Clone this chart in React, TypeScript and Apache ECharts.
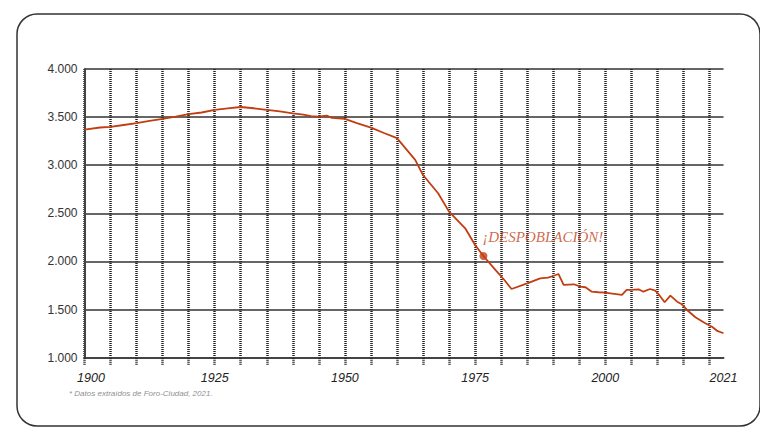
import React, { useEffect, useRef } from "react";
import * as echarts from "echarts";

const years = [
  1900, 1903, 1905, 1907.5, 1910, 1912.5, 1915, 1917.5, 1920, 1922.5, 1925, 1927.5, 1930, 1931, 1932.5,
  1935, 1937.5, 1940, 1942, 1943.5, 1945, 1946.5, 1947.5, 1950, 1952.3, 1955, 1957.5, 1960, 1963.5,
  1965, 1967.9, 1970, 1973.1, 1975, 1976.6, 1978.9, 1980.5, 1982, 1985, 1987.5, 1989, 1990, 1991,
  1992, 1994, 1995.2, 1996.2, 1997.4, 1998.7, 2000, 2001, 2003.2, 2004.1, 2005, 2006.4, 2007.3,
  2008.6, 2009.6, 2010.2, 2011.4, 2012.5, 2013.8, 2014.7, 2015.7, 2017.3, 2019.2, 2020.5, 2021.5,
  2022.7,
];
const population = [
  3370, 3392, 3398, 3418, 3437, 3460, 3481, 3505, 3530, 3548, 3575, 3590, 3605, 3600, 3592,
  3575, 3560, 3540, 3525, 3510, 3505, 3516, 3492, 3481, 3437, 3391, 3335, 3281, 3055,
  2898, 2709, 2518, 2345, 2171, 2057, 1912, 1815, 1714, 1773, 1825, 1832, 1849, 1870,
  1756, 1763, 1738, 1732, 1686, 1680, 1676, 1669, 1652, 1704, 1704, 1711, 1686,
  1714, 1697, 1662, 1576, 1645, 1582, 1555, 1496, 1420, 1358, 1322, 1278,
  1254,
];
const highlight = { year: 1976.6, value: 2057, label: "¡DESPOBLACIÓN!" };
const xLabelValues = [1900, 1925, 1950, 1975, 2000, 2022.7];
const xLabelTexts = ["1900", "1925", "1950", "1975", "2000", "2021"];
const xGridValues = [
  1900, 1905, 1910, 1915, 1920, 1925, 1930, 1935, 1940, 1945, 1950, 1955, 1960, 1965, 1970,
  1975, 1980, 1985, 1990, 1995, 2000, 2005, 2010, 2015, 2020,
];
const footnote = "* Datos extraídos de Foro-Ciudad, 2021.";

const RED = "#c23d12";

export default function App() {
  const ref = useRef<HTMLDivElement>(null);
  useEffect(() => {
    document.body.style.margin = "0";
    const chart = echarts.init(ref.current!, null, { renderer: "svg" });
    chart.setOption({
      animation: false,
      backgroundColor: "#ffffff",
      grid: { left: 84.5, top: 69, right: 36.5, bottom: 69.3 },
      xAxis: {
        type: "value",
        min: 1900,
        max: 2022.7,
        axisLine: { show: true, onZero: false, lineStyle: { color: "#444", width: 2 } },
        axisTick: {
          show: true,
          customValues: xGridValues,
          length: 8,
          lineStyle: { color: "#222", width: 2.5, type: [1, 1] },
        },
        splitLine: { show: true, lineStyle: { color: "#222", width: 2.5, type: [1, 1] } },
        axisLabel: {
          customValues: xLabelValues,
          margin: 14,
          fontSize: 12.5,
          fontStyle: "italic",
          fontFamily: "Liberation Sans",
          color: "#222",
          formatter: (v: number) => {
            const i = xLabelValues.findIndex((x) => Math.abs(x - v) < 0.01);
            if (i < 0) return "";
            return i === 0 ? "{first|" + xLabelTexts[i] + "}" : xLabelTexts[i];
          },
          rich: {
            first: {
              fontSize: 12.5,
              fontStyle: "italic",
              fontFamily: "Liberation Sans",
              color: "#222",
              padding: [0, 0, 0, 13],
            },
          },
        },
      },
      yAxis: {
        type: "value",
        min: 1000,
        max: 4000,
        interval: 500,
        axisLine: { show: true, lineStyle: { color: "#444", width: 2 } },
        axisTick: { show: false },
        splitLine: { show: true, lineStyle: { color: "#333", width: 1.6 } },
        axisLabel: {
          margin: 7,
          fontSize: 12,
          fontFamily: "Liberation Sans",
          color: "#333",
          formatter: (v: number) => v.toLocaleString("de-DE"),
        },
      },
      series: [
        {
          type: "line",
          data: years.map((y, i) => [y, population[i]]),
          showSymbol: false,
          lineStyle: { color: RED, width: 1.8 },
          z: 3,
        },
        {
          type: "scatter",
          data: [[highlight.year, highlight.value]],
          symbolSize: 8,
          itemStyle: { color: RED },
          z: 4,
          label: {
            show: true,
            formatter: highlight.label,
            position: "right",
            offset: [-10, -19],
            fontSize: 15,
            fontStyle: "italic",
            fontFamily: "Liberation Serif",
            color: "#c4441a",
          },
        },
      ],
      graphic: [
        {
          type: "rect",
          shape: { x: 17, y: 14, width: 743, height: 412, r: 20 },
          style: { fill: "none", stroke: "#333", lineWidth: 1.5 },
          z: 10,
        },
        {
          type: "text",
          x: 69,
          y: 393,
          style: {
            text: footnote,
            fontSize: 8,
            fontStyle: "italic",
            fontFamily: "Liberation Sans",
            fill: "#8f8f8f",
            verticalAlign: "middle",
          },
        },
      ],
    });
    return () => chart.dispose();
  }, []);
  return <div ref={ref} style={{ width: 760, height: 427 }} />;
}
